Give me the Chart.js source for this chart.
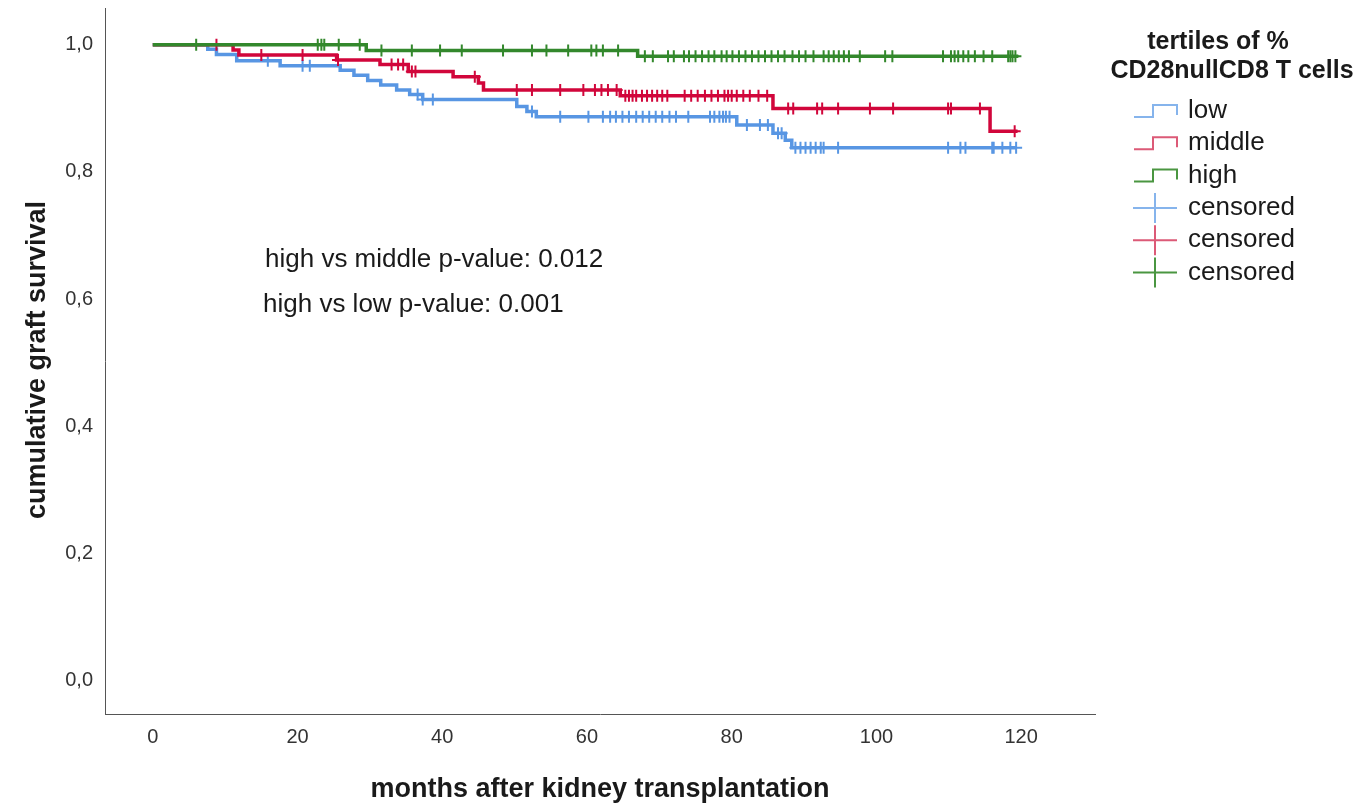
<!DOCTYPE html>
<html>
<head>
<meta charset="utf-8">
<script src="https://cdn.jsdelivr.net/npm/chart.js@4"></script>
<style>
  html, body { margin: 0; padding: 0; background: #fff; }
  canvas { display: block; }
</style>
</head>
<body>
<canvas id="km" width="1370" height="805"></canvas>
<script>
// axis ticks
const xTicks = [0, 20, 40, 60, 80, 100, 120];
const yTicks = [0, 0.2, 0.4, 0.6, 0.8, 1.0];

// Kaplan-Meier steps (month, survival after the event)
const lowTimes = [0, 7.6, 8.8, 11.6, 17.6, 25.9, 27.8, 29.7, 31.5, 33.7, 35.5, 37.3, 50.3, 51.7, 53.0, 80.7, 85.7, 87.4, 88.3, 119.4];
const lowSurv  = [1, 0.993, 0.985, 0.975, 0.967, 0.960, 0.952, 0.944, 0.937, 0.929, 0.922, 0.914, 0.903, 0.895, 0.887, 0.874, 0.861, 0.850, 0.838, 0.838];

const middleTimes = [0, 11.1, 11.9, 25.4, 31.4, 35.3, 41.5, 45.0, 45.7, 64.6, 85.7, 115.7, 119.5];
const middleSurv  = [1, 0.992, 0.984, 0.976, 0.969, 0.958, 0.950, 0.940, 0.929, 0.920, 0.900, 0.864, 0.864];

const highTimes = [0, 29.5, 67.0, 119.6];
const highSurv  = [1, 0.991, 0.982, 0.982];

// censored observations (months)
const lowCensored = [15.9, 20.7, 21.7, 36.6, 37.3, 38.7, 52.4, 56.3, 60.2, 62.2, 63.2, 64.0, 64.9, 65.8, 66.8,
  67.7, 68.6, 69.5, 70.4, 71.4, 72.3, 74.0, 77.0, 77.6, 78.3, 78.8, 79.2, 79.7, 82.1, 83.9, 85.0, 86.4, 86.9,
  88.8, 89.5, 90.2, 90.9, 91.6, 92.3, 92.7, 94.7, 109.9, 111.6, 112.3, 116.0, 116.2, 117.4, 118.5, 119.3];
const middleCensored = [8.8, 15.0, 20.7, 25.6, 33.0, 33.9, 34.6, 35.8, 36.3, 44.5, 50.3, 52.4, 56.3, 59.5, 61.1,
  62.0, 62.9, 64.1, 65.3, 65.8, 66.3, 66.8, 67.6, 68.3, 69.0, 69.7, 70.4, 71.1, 73.5, 74.4, 75.3, 76.3, 77.2,
  78.1, 79.0, 79.5, 80.0, 80.7, 81.6, 82.5, 83.7, 84.9, 87.8, 88.5, 91.8, 92.5, 94.7, 99.1, 102.3, 109.9, 110.3,
  114.3, 119.1];
const highCensored = [6.0, 22.8, 23.3, 23.7, 25.7, 28.6, 31.6, 35.8, 39.7, 42.7, 48.4, 52.4, 54.4, 57.4, 60.6,
  61.3, 62.2, 64.3, 68.0, 69.1, 71.2, 72.0, 73.4, 74.1, 75.0, 75.9, 76.8, 77.6, 78.6, 79.3, 80.1, 81.0, 81.9,
  82.8, 83.7, 84.6, 85.5, 86.4, 87.3, 88.4, 89.3, 90.2, 91.3, 92.7, 93.4, 94.1, 94.8, 95.5, 96.2, 97.7, 101.2,
  102.2, 109.2, 110.3, 110.8, 111.3, 112.0, 112.7, 113.6, 114.8, 116.0, 118.2, 118.5, 118.8, 119.2];

const legendLabels = ['low', 'middle', 'high', 'censored', 'censored', 'censored'];
const pLines = ['high vs middle p-value: 0.012', 'high vs low p-value: 0.001'];

const lineColors = { low: '#5896e3', middle: '#d1063b', high: '#33882c' };
const legendColors = { low: '#86b4ec', middle: '#dc5a77', high: '#4a9641' };

function toPoints(times, surv) {
  return times.map((t, i) => ({ x: t, y: surv[i] }));
}
// survival level of a curve at a given month
function survAt(times, surv, t) {
  let s = surv[0];
  for (let i = 0; i < times.length; i++) {
    if (times[i] <= t) s = surv[i];
  }
  return s;
}
function censorPoints(cens, times, surv) {
  return cens.map(t => ({ x: t, y: survAt(times, surv, t) }));
}

function curve(label, times, surv, color) {
  return {
    label: label,
    data: toPoints(times, surv),
    showLine: true,
    stepped: 'before',
    borderColor: color,
    borderWidth: 3.5,
    pointRadius: 0,
    fill: false
  };
}
function marks(label, cens, times, surv, color) {
  return {
    label: label,
    data: censorPoints(cens, times, surv),
    showLine: false,
    pointStyle: 'cross',
    pointRadius: 6,
    pointBorderWidth: 2,
    borderColor: color,
    backgroundColor: color
  };
}

const font = '"Liberation Sans", Arial, sans-serif';

const extras = {
  id: 'extras',
  afterDraw(chart) {
    const c = chart.ctx;
    c.save();
    c.fillStyle = '#1a1a1a';

    // p-values
    c.font = '26px ' + font;
    c.textAlign = 'left';
    c.textBaseline = 'middle';
    c.fillText(pLines[0], 265, 260);
    c.fillText(pLines[1], 263, 305);

    // axis titles
    c.font = 'bold 27px ' + font;
    c.textAlign = 'center';
    c.fillText('months after kidney transplantation', 600, 790);
    c.save();
    c.translate(38, 360);
    c.rotate(-Math.PI / 2);
    c.fillText('cumulative graft survival', 0, 0);
    c.restore();

    // legend title
    c.font = 'bold 25px ' + font;
    c.fillText('tertiles of %', 1218, 42);
    c.fillText('CD28nullCD8 T cells', 1232, 71);

    // legend items
    const keys = ['low', 'middle', 'high', 'low', 'middle', 'high'];
    c.font = '26px ' + font;
    c.textAlign = 'left';
    for (let i = 0; i < legendLabels.length; i++) {
      const y = 111 + i * 32.3;
      c.strokeStyle = legendColors[keys[i]];
      c.lineWidth = 2;
      c.beginPath();
      if (i < 3) {
        c.moveTo(1134, y + 6);
        c.lineTo(1153, y + 6);
        c.lineTo(1153, y - 6);
        c.lineTo(1177, y - 6);
        c.lineTo(1177, y + 4);
      } else {
        c.moveTo(1133, y);
        c.lineTo(1177, y);
        c.moveTo(1155, y - 15);
        c.lineTo(1155, y + 15);
      }
      c.stroke();
      c.fillStyle = '#1a1a1a';
      c.fillText(legendLabels[i], 1188, y);
    }
    c.restore();
  }
};

new Chart(document.getElementById('km').getContext('2d'), {
  type: 'scatter',
  data: {
    datasets: [
      curve('high', highTimes, highSurv, lineColors.high),
      marks('censored', highCensored, highTimes, highSurv, lineColors.high),
      curve('middle', middleTimes, middleSurv, lineColors.middle),
      marks('censored', middleCensored, middleTimes, middleSurv, lineColors.middle),
      curve('low', lowTimes, lowSurv, lineColors.low),
      marks('censored', lowCensored, lowTimes, lowSurv, lineColors.low)
    ]
  },
  options: {
    responsive: false,
    animation: false,
    layout: { padding: { top: 7, right: 275, left: 0, bottom: 0 } },
    plugins: { legend: { display: false }, tooltip: { enabled: false } },
    scales: {
      x: {
        type: 'linear',
        min: -6.6,
        max: 130.2,
        afterFit: s => { s.height = 91; s.paddingLeft = 0; s.paddingRight = 0; },
        afterBuildTicks: s => { s.ticks = xTicks.map(v => ({ value: v })); },
        grid: { display: false, drawTicks: false },
        border: { display: true, color: '#555', width: 1 },
        ticks: { color: '#333', padding: 11, font: { family: font, size: 20 } }
      },
      y: {
        type: 'linear',
        min: -0.053,
        max: 1.058,
        afterFit: s => { s.width = 105; s.paddingTop = 0; s.paddingBottom = 0; },
        afterBuildTicks: s => { s.ticks = yTicks.map(v => ({ value: v })); },
        grid: { display: false, drawTicks: false },
        border: { display: true, color: '#555', width: 1 },
        ticks: {
          color: '#333', padding: 12, font: { family: font, size: 20 },
          callback: v => v.toFixed(1).replace('.', ',')
        }
      }
    }
  },
  plugins: [extras]
});
</script>
</body>
</html>
